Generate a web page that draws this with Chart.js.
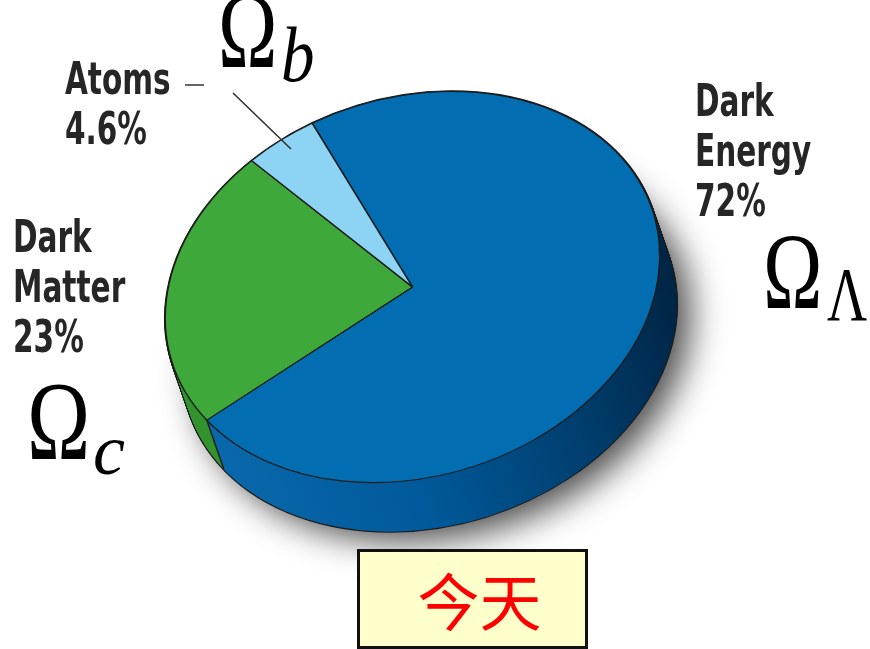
<!DOCTYPE html>
<html>
<head>
<meta charset="utf-8">
<script src="https://cdn.jsdelivr.net/npm/chart.js@4/dist/chart.umd.min.js"></script>
<style>
  html, body { margin: 0; padding: 0; background: #fff; }
  #wrap { position: relative; width: 870px; height: 649px; overflow: hidden; }
  #pie { position: absolute; left: 0; top: 0; }
  .lbl {
    position: absolute; white-space: nowrap; color: #262626;
    font-family: 'Liberation Sans Narrow', 'DejaVu Sans Condensed', sans-serif;
    font-weight: bold; font-size: 45px; line-height: 50px;
    transform: scaleX(0.73); transform-origin: left top;
  }
  .om {
    position: absolute; white-space: nowrap; color: #000; line-height: 1;
    font-family: 'Liberation Serif', 'DejaVu Serif', serif;
    transform-origin: left top;
  }
  .om.it { font-style: italic; }
  #today {
    position: absolute; left: 357px; top: 549px; width: 231px; height: 100px;
    box-sizing: border-box; border: 3px solid #111; background: #ffffcc;
    display: flex; align-items: center; justify-content: center; padding-left: 14px;
    font-family: 'Noto Sans CJK SC', sans-serif; font-size: 62px; color: #ff0000;
  }
</style>
</head>
<body>
<div id="wrap">
  <canvas id="pie" width="870" height="649"></canvas>

  <div class="lbl" id="lbl-energy" style="left:695px; top:76px"></div>
  <div class="lbl" id="lbl-matter" style="left:13px; top:212px"></div>
  <div class="lbl" id="lbl-atoms" style="left:65px; top:54px"></div>

  <span class="om" style="left:218px; top:-23px; font-size:108px; transform:scaleX(0.74)">Ω</span>
  <span class="om it" style="left:281px; top:15px; font-size:79px; transform:scaleX(0.85)">b</span>

  <span class="om" style="left:763px; top:218px; font-size:108px; transform:scaleX(0.74)">Ω</span>
  <span class="om" style="left:827px; top:256px; font-size:77px; transform:scaleX(0.72)">Λ</span>

  <span class="om" style="left:27px; top:365px; font-size:112px; transform:scaleX(0.76)">Ω</span>
  <span class="om it" style="left:93px; top:414px; font-size:72px">c</span>

  <div id="today">今天</div>
</div>

<script>
(function () {
  'use strict';

  // ── Data ────────────────────────────────────────────────────────────────────
  const components = ['Dark Energy', 'Dark Matter', 'Atoms'];
  const shares     = [72, 23, 4.6];   // percent of the energy budget

  // ── Look ────────────────────────────────────────────────────────────────────
  const topColors  = ['#026db1', '#3fa83b', '#8dd3f4'];
  const sideColors = [null, '#32932f', '#6fb8dc'];   // null -> shaded gradient
  const TILT   = -17 * Math.PI / 180;   // rotation of the disc on screen
  const SQUASH = 0.752;                 // minor / major axis of the top face
  const DEPTH  = [17, 49];              // screen offset of the bottom face

  // screen offset -> offset in the flat (unrotated, unsquashed) disc
  function toDisc(dx, dy) {
    const c = Math.cos(-TILT), s = Math.sin(-TILT);
    return [dx * c - dy * s, (dx * s + dy * c) / SQUASH];
  }

  function applyTilt(ctx, cx, cy) {
    ctx.translate(cx, cy);
    ctx.rotate(TILT);
    ctx.scale(1, SQUASH);
    ctx.translate(-cx, -cy);
  }

  // ── Tilted disc with a rim: side is drawn first, Chart.js draws the top ────
  const diskPlugin = {
    id: 'disk3d',
    beforeDatasetsDraw(chart) {
      const ctx  = chart.ctx;
      const arcs = chart.getDatasetMeta(0).data;
      const cx = arcs[0].x, cy = arcs[0].y, r = arcs[0].outerRadius;
      const [ox, oy] = toDisc(DEPTH[0], DEPTH[1]);
      const steps = Math.round(Math.hypot(DEPTH[0], DEPTH[1]));

      ctx.save();
      applyTilt(ctx, cx, cy);

      const rim = ctx.createLinearGradient(cx - r, 0, cx + r, 0);
      rim.addColorStop(0,    '#0a69ad');
      rim.addColorStop(0.4,  '#00599a');
      rim.addColorStop(0.75, '#003d6c');
      rim.addColorStop(1,    '#002444');

      // soft drop shadow under the bottom face
      ctx.save();
      ctx.shadowColor = 'rgba(0,0,0,0.7)';
      ctx.shadowBlur = 34;
      ctx.shadowOffsetX = 14;
      ctx.shadowOffsetY = 10;
      ctx.fillStyle = '#555';
      ctx.beginPath();
      ctx.arc(cx + ox, cy + oy, r, 0, Math.PI * 2);
      ctx.fill();
      ctx.restore();

      // silhouette: every layer stroked, then covered by the fills below
      ctx.strokeStyle = '#1c1c1c';
      ctx.lineWidth = 2.6;
      for (let i = 0; i <= steps; i++) {
        const t = i / steps;
        ctx.beginPath();
        ctx.arc(cx + ox * t, cy + oy * t, r, 0, Math.PI * 2);
        ctx.stroke();
      }

      // rim body, bottom layer up
      for (let i = steps; i >= 0; i--) {
        const t = i / steps;
        const x = cx + ox * t, y = cy + oy * t;
        arcs.forEach((a, k) => {
          ctx.fillStyle = sideColors[k] || rim;
          ctx.beginPath();
          ctx.moveTo(x, y);
          ctx.arc(x, y, r, a.startAngle, a.endAngle);
          ctx.closePath();
          ctx.fill();
        });
      }

      // slice seams down the rim
      ctx.lineWidth = 1.5;
      arcs.forEach(a => {
        const px = cx + r * Math.cos(a.startAngle), py = cy + r * Math.sin(a.startAngle);
        ctx.beginPath();
        ctx.moveTo(px, py);
        ctx.lineTo(px + ox, py + oy);
        ctx.stroke();
      });
      // leave the tilt on for the dataset draw
    },
    afterDatasetsDraw(chart) {
      chart.ctx.restore();
    },
    afterDraw(chart) {
      // leader for the atoms slice
      const ctx = chart.ctx;
      ctx.save();
      ctx.strokeStyle = '#333';
      ctx.lineWidth = 1.6;
      ctx.beginPath();
      ctx.moveTo(185, 85); ctx.lineTo(204, 85);
      ctx.moveTo(233, 93); ctx.lineTo(291, 149);
      ctx.stroke();
      ctx.restore();
    }
  };

  new Chart(document.getElementById('pie'), {
    type: 'pie',
    data: {
      labels: components,
      datasets: [{
        data: shares,
        backgroundColor: topColors,
        borderColor: '#1c1c1c',
        borderWidth: 1.5,
        clip: false
      }]
    },
    options: {
      responsive: false,
      animation: false,
      events: [],
      rotation: -11,
      radius: 252,
      layout: { padding: { left: 152, right: 197, top: 27, bottom: 102 } },
      plugins: { legend: { display: false }, tooltip: { enabled: false } }
    },
    plugins: [diskPlugin]
  });

  // ── Labels ───────────────────────────────────────────────────────────────────
  const labelIds = ['lbl-energy', 'lbl-matter', 'lbl-atoms'];
  components.forEach((name, i) => {
    const el = document.getElementById(labelIds[i]);
    el.innerHTML = name.split(' ').concat(shares[i] + '%').join('<br>');
  });
})();
</script>
</body>
</html>
